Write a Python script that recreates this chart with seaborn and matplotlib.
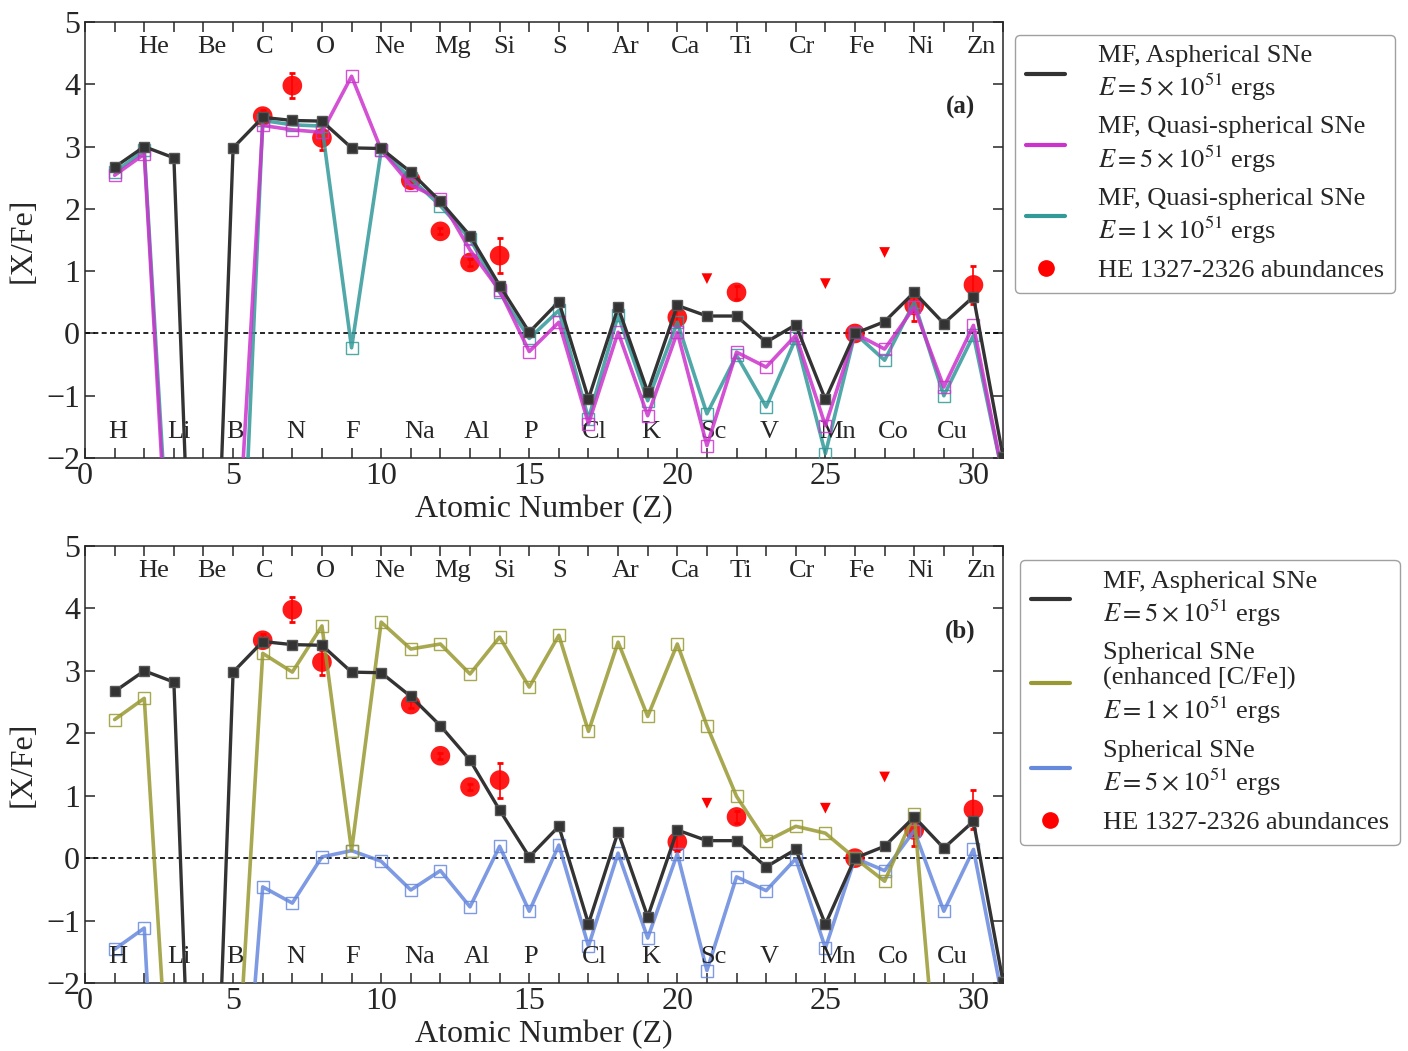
import numpy as np
import pandas as pd
import matplotlib
matplotlib.use("Agg")
import matplotlib.pyplot as plt
from matplotlib.lines import Line2D
import seaborn as sns

# atomic numbers and element symbols
Z = list(range(1, 32))
elements = ["H", "He", "Li", "Be", "B", "C", "N", "O", "F", "Ne", "Na", "Mg", "Al", "Si", "P",
            "S", "Cl", "Ar", "K", "Ca", "Sc", "Ti", "V", "Cr", "Mn", "Fe", "Co", "Ni", "Cu", "Zn"]

# model yields [X/Fe]
mf_asph_5 = [2.67, 3.00, 2.82, -10.0, 2.98, 3.47, 3.42, 3.41, 2.98, 2.97, 2.59, 2.12, 1.57, 0.77, 0.02,
             0.51, -1.05, 0.42, -0.94, 0.45, 0.28, 0.28, -0.14, 0.14, -1.06, 0.0, 0.19, 0.66, 0.16, 0.59, -1.98]
mf_quasi_5 = [2.54, 2.88, -5.5, -10.0, -4.8, 3.34, 3.27, 3.23, 4.13, 2.95, 2.38, 2.16, 1.34, 0.69, -0.29,
              0.18, -1.45, 0.02, -1.32, 0.02, -1.80, -0.30, -0.54, -0.03, -1.48, 0.0, -0.25, 0.42, -0.86, 0.13, -2.3]
mf_quasi_1 = [2.59, 2.94, -5.0, -10.0, -7.5, 3.42, 3.35, 3.33, -0.23, 2.94, 2.49, 2.05, 1.52, 0.66, -0.08,
              0.37, -1.37, 0.29, -1.08, 0.18, -1.29, -0.35, -1.18, -0.08, -1.93, 0.0, -0.43, 0.50, -1.00, -0.03, -2.3]
sph_enh_1 = [2.22, 2.56, -5.1, -10.0, -4.7, 3.28, 2.98, 3.72, 0.12, 3.78, 3.35, 3.43, 2.95, 3.54, 2.74,
             3.57, 2.03, 3.46, 2.27, 3.43, 2.12, 0.99, 0.27, 0.51, 0.40, 0.0, -0.37, 0.70, -4.8, -5.0, -5.0]
sph_5 = [-1.46, -1.12, -10.0, -10.0, -6.4, -0.46, -0.72, 0.02, 0.12, -0.05, -0.51, -0.20, -0.78, 0.19, -0.85,
         0.21, -1.41, 0.08, -1.28, 0.07, -1.80, -0.30, -0.52, -0.01, -1.44, 0.0, -0.20, 0.44, -0.85, 0.14, -2.3]

# HE 1327-2326 abundances
obs_z = [6, 7, 8, 11, 12, 13, 14, 20, 22, 26, 28, 30]
obs_val = [3.49, 3.98, 3.14, 2.46, 1.64, 1.14, 1.25, 0.26, 0.66, 0.0, 0.45, 0.78]
obs_err = [0.10, 0.20, 0.20, 0.05, 0.05, 0.05, 0.28, 0.15, 0.10, 0.0, 0.25, 0.31]
lim_z = [21, 25, 27]
lim_val = [0.88, 0.80, 1.30]

sns.set_style("ticks")
plt.rcParams["font.family"] = ["Liberation Serif", "DejaVu Serif"]
plt.rcParams["mathtext.fontset"] = "stix"
plt.rcParams["xtick.direction"] = "in"
plt.rcParams["ytick.direction"] = "in"

c_black = "#333333"
c_mag = "#CC33CC"
c_teal = "#339999"
c_olive = "#999933"
c_blue = "#6688DD"
c_red = "#FF0000"

fig = plt.figure(figsize=(14.08, 10.51), dpi=100)
ax1 = fig.add_axes([0.0604, 0.5642, 0.652, 0.4148])
ax2 = fig.add_axes([0.0604, 0.0647, 0.652, 0.4158])


def draw_series(ax, vals, color, filled, lw=2.6, z=3):
    df = pd.DataFrame({"Z": Z, "v": vals})
    if filled:
        sns.lineplot(data=df, x="Z", y="v", ax=ax, color=color, lw=lw, marker="s", ms=7,
                     mfc=color, mec="#555555", mew=1.0, zorder=z, legend=False)
    else:
        sns.lineplot(data=df, x="Z", y="v", ax=ax, color=color, lw=lw, marker="s", ms=8,
                     mfc="none", mec=color, mew=1.0, alpha=0.85, zorder=z, legend=False)


def draw_obs(ax):
    ax.errorbar(obs_z, obs_val, yerr=obs_err, fmt="none", ecolor=c_red, elinewidth=1.2,
                capsize=2.5, capthick=2, zorder=2)
    sns.scatterplot(x=obs_z, y=obs_val, ax=ax, color=c_red, s=200, edgecolor="none",
                    alpha=0.9, zorder=2, legend=False)
    sns.scatterplot(x=lim_z, y=lim_val, ax=ax, color=c_red, marker="v", s=60, edgecolor="none",
                    zorder=2, legend=False)


def style_axes(ax, tag):
    ax.set_xlim(0, 31)
    ax.set_ylim(-2, 5)
    ax.axhline(0, color="black", ls="--", lw=1.2, dashes=(3, 2), zorder=1)
    ax.set_xticks(range(0, 31, 5))
    ax.set_xticks(range(0, 32), minor=True)
    ax.set_yticks(range(-2, 6))
    ax.tick_params(which="both", top=True, right=True, labelsize=23, length=7, width=1.1)
    ax.tick_params(which="minor", length=7)
    ax.tick_params(axis="x", pad=3)
    for s in ax.spines.values():
        s.set_linewidth(1.1)
    ax.set_xlabel("Atomic Number (Z)", fontsize=23, labelpad=3)
    ax.set_ylabel("[X/Fe]", fontsize=23, labelpad=6)
    for i, el in enumerate(elements):
        zz = i + 1
        if zz % 2 == 0:
            ax.text(zz - 0.22, 4.6, el, fontsize=19, ha="left", va="center")
        else:
            ax.text(zz - 0.22, -1.58, el, fontsize=19, ha="left", va="center")
    ax.text(29.55, 3.63, tag, fontsize=18, fontweight="bold", ha="center", va="center")


# panel (a)
draw_obs(ax1)
draw_series(ax1, mf_quasi_1, c_teal, False, z=3)
draw_series(ax1, mf_quasi_5, c_mag, False, z=4)
draw_series(ax1, mf_asph_5, c_black, True, lw=2.4, z=5)
style_axes(ax1, "(a)")

# panel (b)
draw_obs(ax2)
draw_series(ax2, sph_5, c_blue, False, z=3)
draw_series(ax2, sph_enh_1, c_olive, False, z=4)
draw_series(ax2, mf_asph_5, c_black, True, lw=2.4, z=5)
style_axes(ax2, "(b)")

e5 = "$E = 5\\times10^{51}$ ergs"
e1 = "$E = 1\\times10^{51}$ ergs"
obs_handle = Line2D([], [], ls="none", marker="o", color=c_red, ms=11)

h1 = [Line2D([], [], color=c_black, lw=3), Line2D([], [], color=c_mag, lw=3),
      Line2D([], [], color=c_teal, lw=3), obs_handle]
l1 = ["MF, Aspherical SNe\n" + e5, "MF, Quasi-spherical SNe\n" + e5,
      "MF, Quasi-spherical SNe\n" + e1, "HE 1327-2326 abundances"]
leg1 = ax1.legend(h1, l1, loc="upper left", bbox_to_anchor=(0.721, 0.967),
                  bbox_transform=fig.transFigure, fontsize=19, handlelength=1.5,
                  handletextpad=1.25, labelspacing=0.5, borderpad=0.4, borderaxespad=0,
                  frameon=True, fancybox=True, edgecolor="#888888")

h2 = [Line2D([], [], color=c_black, lw=3), Line2D([], [], color=c_olive, lw=3),
      Line2D([], [], color=c_blue, lw=3), obs_handle]
l2 = ["MF, Aspherical SNe\n" + e5, "Spherical SNe\n(enhanced [C/Fe])\n" + e1,
      "Spherical SNe\n" + e5, "HE 1327-2326 abundances"]
leg2 = ax2.legend(h2, l2, loc="upper left", bbox_to_anchor=(0.7244, 0.4672),
                  bbox_transform=fig.transFigure, fontsize=19, handlelength=1.5,
                  handletextpad=1.25, labelspacing=0.5, borderpad=0.4, borderaxespad=0,
                  frameon=True, fancybox=True, edgecolor="#888888")

fig.savefig("out.png", dpi=100)
